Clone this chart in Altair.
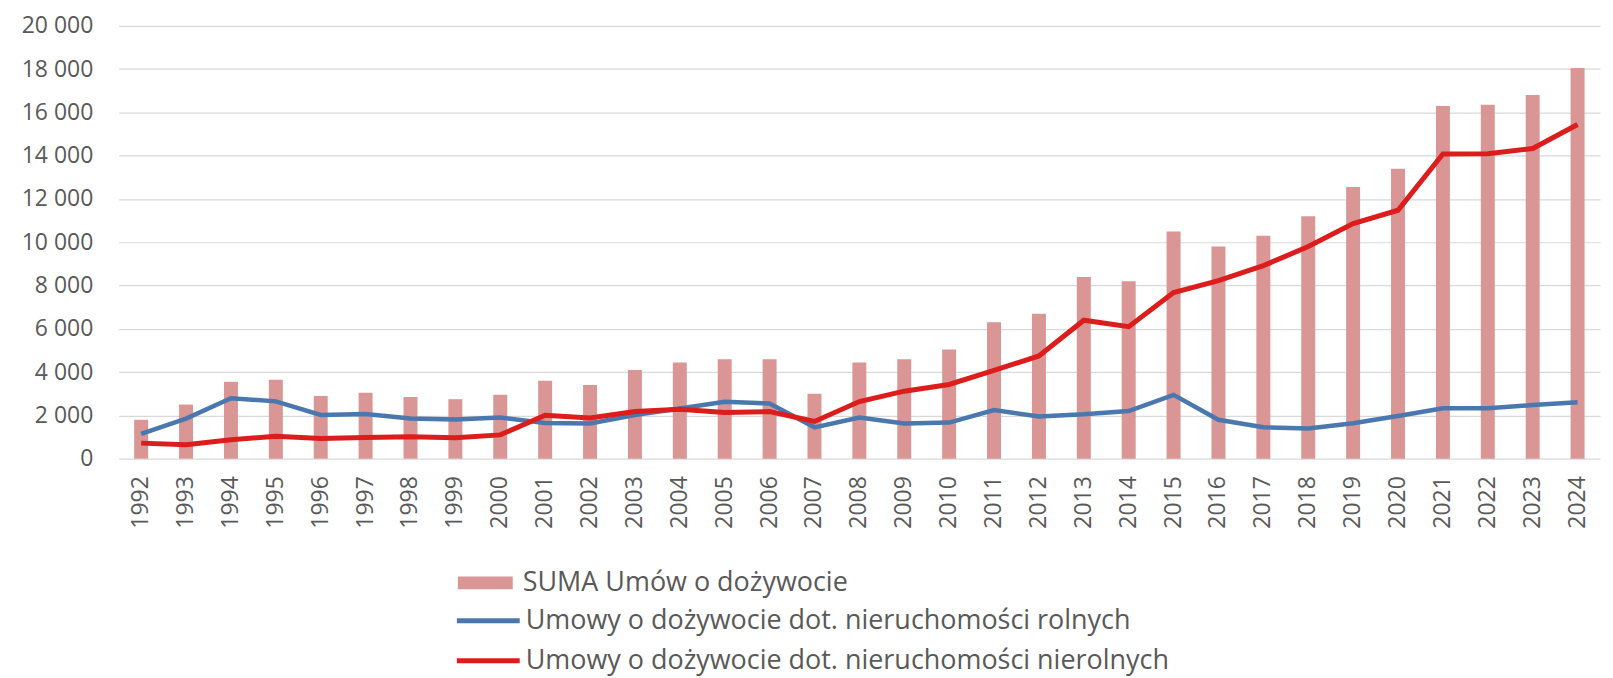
import altair as alt
import pandas as pd

years = [str(y) for y in range(1992, 2025)]
suma = [1800, 2500, 3550, 3650, 2900, 3050, 2850, 2750, 2950, 3600,
        3400, 4100, 4450, 4600, 4600, 3000, 4450, 4600, 5050, 6300,
        6700, 8400, 8200, 10500, 9800, 10300, 11200, 12550, 13400, 16300,
        16350, 16800, 18050]
rolne = [1150, 1850, 2790, 2650, 2020, 2060, 1860, 1810, 1900, 1650,
         1630, 2020, 2320, 2630, 2550, 1450, 1900, 1630, 1670, 2250,
         1950, 2050, 2200, 2950, 1800, 1450, 1400, 1640, 1970, 2330,
         2330, 2480, 2610]
nierolne = [720, 650, 880, 1040, 930, 980, 1010, 970, 1100, 2010,
            1880, 2180, 2280, 2130, 2180, 1720, 2640, 3120, 3430, 4080,
            4750, 6400, 6100, 7680, 8230, 8920, 9800, 10860, 11480, 14080,
            14090, 14330, 15440]

lab_suma = "SUMA Umów o dożywocie"
lab_rol = "Umowy o dożywocie dot. nieruchomości rolnych"
lab_nierol = "Umowy o dożywocie dot. nieruchomości nierolnych"

bars_df = pd.DataFrame({"rok": years, "wartosc": suma, "seria": lab_suma})
rol_df = pd.DataFrame({"rok": years, "wartosc": rolne, "seria": lab_rol})
nierol_df = pd.DataFrame({"rok": years, "wartosc": nierolne, "seria": lab_nierol})

FONT = "Open Sans"
GRAY = "#595959"
LEG_FS = 27
AX_FS = 23

x_enc = alt.X("rok:N", sort=years, title=None,
              scale=alt.Scale(paddingInner=0.69, paddingOuter=0.345),
              axis=alt.Axis(labelAngle=270, labelPadding=17, ticks=False, domain=False,
                            grid=False, labelFont=FONT, labelFontSize=AX_FS, labelColor=GRAY))
y_enc = alt.Y("wartosc:Q", title=None,
              scale=alt.Scale(domain=[0, 20000], nice=False),
              axis=alt.Axis(values=list(range(0, 20001, 2000)), format=",d",
                            labelExpr="replace(datum.label, ',', ' ')",
                            ticks=False, domain=False, labelPadding=26,
                            gridColor="#D9D9D9", gridWidth=1.2,
                            labelFont=FONT, labelFontSize=AX_FS, labelColor=GRAY))

bars = alt.Chart(bars_df).mark_bar(size=14).encode(
    x=x_enc,
    y=y_enc,
    color=alt.Color("seria:N",
                    scale=alt.Scale(domain=[lab_suma], range=["#D99694"]),
                    legend=alt.Legend(title=None, orient="none", legendX=354, legendY=545,
                                      symbolType="M-2.5,-0.59L2.5,-0.59L2.5,0.59L-2.5,0.59Z",
                                      symbolSize=484, symbolStrokeWidth=0,
                                      labelOffset=24, padding=0, labelLimit=900,
                                      labelFont=FONT, labelFontSize=LEG_FS, labelColor=GRAY)),
)

stroke_scale = alt.Scale(domain=[lab_rol, lab_nierol], range=["#4A78AE", "#DD1C1C"])
stroke_legend = alt.Legend(title=None, orient="none", legendX=357, legendY=583,
                           symbolType="M-3,0L3,0", symbolSize=441, symbolStrokeWidth=5,
                           labelOffset=24, padding=0, rowPadding=12, labelLimit=900,
                           labelFont=FONT, labelFontSize=LEG_FS, labelColor=GRAY)

line_rol = alt.Chart(rol_df).mark_line(strokeWidth=4.5).encode(
    x=alt.X("rok:N", sort=years),
    y="wartosc:Q",
    stroke=alt.Stroke("seria:N", scale=stroke_scale, legend=stroke_legend),
)
line_nierol = alt.Chart(nierol_df).mark_line(strokeWidth=5).encode(
    x=alt.X("rok:N", sort=years),
    y="wartosc:Q",
    stroke=alt.Stroke("seria:N", scale=stroke_scale, legend=stroke_legend),
)

chart = alt.layer(bars, line_rol, line_nierol).resolve_scale(
    color="independent", stroke="shared"
).properties(
    width=1485, height=434,
    padding={"left": 111, "top": 17, "right": 5, "bottom": 218},
    autosize=alt.AutoSizeParams(type="none"),
    background="white",
).configure_view(stroke=None)

chart.save("out.html", embed_options={"renderer": "svg", "actions": False})
